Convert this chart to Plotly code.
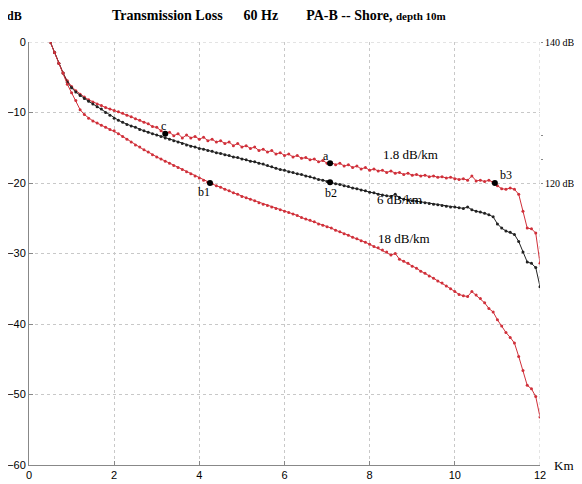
import plotly.graph_objects as go

km = [round(0.5 + 0.1 * i, 1) for i in range(116)]

loss_1_8 = [0.0, -1.5, -3.0, -4.4, -5.5, -6.3, -6.9, -7.4, -7.8, -8.2,
            -8.5, -8.8, -9.0, -9.3, -9.5, -9.7, -9.9, -10.1, -10.4, -10.6,
            -10.9, -11.1, -11.4, -11.6, -12.0, -12.1, -12.6, -13.0, -12.8, -13.3,
            -13.0, -13.6, -13.2, -13.6, -13.4, -13.8, -13.5, -14.0, -13.8, -14.2,
            -14.0, -14.4, -14.2, -14.7, -14.4, -14.9, -14.7, -15.1, -14.9, -15.4,
            -15.2, -15.6, -15.4, -15.9, -15.7, -16.1, -15.9, -16.3, -16.1, -16.5,
            -16.4, -16.7, -16.6, -17.0, -16.8, -17.2, -17.1, -17.4, -17.2, -17.6,
            -17.4, -17.8, -17.6, -18.0, -17.8, -18.2, -18.0, -18.3, -18.2, -18.5,
            -18.3, -18.6, -18.5, -18.8, -18.6, -18.9, -18.8, -19.0, -18.9, -19.1,
            -19.0, -19.2, -19.1, -19.3, -19.2, -19.4, -19.5, -19.4, -19.6, -19.0,
            -19.7, -19.6, -19.8, -19.6, -19.9, -20.4, -20.8, -20.9, -20.7, -20.9,
            -21.6, -24.0, -26.4, -26.5, -27.1, -31.4]

loss_6 = [0.0, -1.5, -3.0, -4.4, -5.7, -6.5, -7.1, -7.6, -8.0, -8.4,
          -8.8, -9.2, -9.5, -10.0, -10.4, -10.8, -11.1, -11.4, -11.7, -11.9,
          -12.1, -12.4, -12.6, -12.8, -13.0, -13.2, -13.4, -13.6, -13.8, -14.0,
          -14.2, -14.4, -14.6, -14.8, -14.9, -15.1, -15.2, -15.4, -15.5, -15.7,
          -15.8, -16.0, -16.1, -16.3, -16.4, -16.6, -16.7, -16.9, -17.0, -17.2,
          -17.3, -17.5, -17.7, -17.9, -18.1, -18.2, -18.4, -18.5, -18.7, -18.8,
          -19.0, -19.1, -19.3, -19.5, -19.6, -19.8, -19.9, -20.1, -20.2, -20.4,
          -20.5, -20.7, -20.8, -21.0, -21.1, -21.3, -21.4, -21.6, -21.7, -21.8,
          -21.9, -21.6, -22.1, -22.3, -22.4, -22.5, -22.6, -22.7, -22.8, -22.9,
          -23.0, -23.1, -23.2, -23.3, -23.4, -23.4, -23.5, -23.6, -23.4, -23.8,
          -24.0, -24.1, -24.3, -24.5, -24.8, -25.8, -26.4, -26.8, -27.0, -27.3,
          -28.3, -29.8, -31.2, -31.4, -32.0, -34.7]

loss_18 = [0.0, -1.5, -3.0, -4.4, -6.0, -7.2, -8.3, -9.6, -10.3, -10.8,
           -11.2, -11.5, -11.8, -12.1, -12.4, -12.6, -13.0, -13.4, -13.8, -14.2,
           -14.6, -14.9, -15.3, -15.6, -16.0, -16.3, -16.6, -16.9, -17.2, -17.5,
           -17.8, -18.1, -18.4, -18.7, -19.0, -19.3, -19.6, -19.9, -20.1, -20.4,
           -20.6, -20.9, -21.1, -21.4, -21.6, -21.9, -22.1, -22.3, -22.5, -22.8,
           -23.0, -23.2, -23.4, -23.6, -23.8, -24.0, -24.2, -24.4, -24.6, -24.9,
           -25.1, -25.3, -25.5, -25.8, -26.0, -26.2, -26.4, -26.7, -26.9, -27.2,
           -27.4, -27.7, -27.9, -28.2, -28.4, -28.7, -29.0, -29.2, -29.5, -29.8,
           -30.2, -30.0, -30.8, -31.1, -31.4, -31.8, -32.1, -32.5, -32.8, -33.2,
           -33.5, -33.9, -34.2, -34.6, -35.0, -35.4, -35.8, -36.0, -36.1, -35.4,
           -35.9, -36.4, -37.0, -37.8, -38.3, -39.4, -40.3, -41.2, -41.9, -42.7,
           -44.6, -46.6, -48.7, -49.2, -50.3, -53.2]

point_names = ["c", "a", "b1", "b2", "b3"]
point_km = [3.2, 7.07, 4.25, 7.07, 10.94]
point_db = [-13.0, -17.2, -20.0, -19.9, -20.0]
point_label_km = [3.15, 6.98, 4.1, 7.1, 11.2]
point_label_db = [-11.9, -16.1, -21.3, -21.4, -18.9]

rate_labels = ["1.8 dB/km", "6 dB/km", "18 dB/km"]
rate_label_km = [8.95, 8.7, 8.8]
rate_label_db = [-15.9, -22.3, -27.9]

x_ticks = [0, 2, 4, 6, 8, 10, 12]
y_ticks = [0, -10, -20, -30, -40, -50, -60]
right_ticks = [120, 123.3, 126.7, 140]
right_text = ["120 dB", "", "", "140 dB"]

RED = "#d0303a"
SERIF = "Liberation Serif"
SANS = "Liberation Sans"

fig = go.Figure()
for vals, col in [(loss_1_8, RED), (loss_6, "#222222"), (loss_18, RED)]:
    fig.add_trace(go.Scatter(x=km, y=vals, mode="lines+markers",
                             line=dict(color=col, width=1),
                             marker=dict(color=col, size=3),
                             showlegend=False))
fig.add_trace(go.Scatter(x=point_km, y=point_db, mode="markers",
                         marker=dict(color="black", size=6), showlegend=False))
fig.add_trace(go.Scatter(x=[None], y=[None], yaxis="y2", showlegend=False))

for n, xk, yd in zip(point_names, point_label_km, point_label_db):
    fig.add_annotation(x=xk, y=yd, text=n, showarrow=False,
                       font=dict(family=SERIF, size=12, color="black"))
for n, xk, yd in zip(rate_labels, rate_label_km, rate_label_db):
    fig.add_annotation(x=xk, y=yd, text=n, showarrow=False,
                       font=dict(family=SERIF, size=13, color="black"))

fig.add_annotation(xref="paper", yref="paper", x=0.49, y=1.0, yshift=27,
                   xanchor="center", yanchor="middle",
                   text="<b>Transmission Loss&nbsp;&nbsp;&nbsp;&nbsp;&nbsp; 60 Hz&nbsp;&nbsp;&nbsp;&nbsp;&nbsp;&nbsp;&nbsp; PA-B -- Shore, <span style='font-size:11px'>depth 10m</span></b>",
                   showarrow=False, font=dict(family=SERIF, size=14, color="black"))
fig.add_annotation(xref="paper", yref="paper", x=0, y=1.0, xshift=-15, yshift=26,
                   xanchor="center", yanchor="middle",
                   text="<b>dB</b>", showarrow=False,
                   font=dict(family=SERIF, size=12, color="black"))
fig.add_annotation(xref="paper", yref="paper", x=1.0, y=0, xshift=24, yshift=0,
                   xanchor="center", yanchor="middle",
                   text="Km", showarrow=False,
                   font=dict(family=SERIF, size=13, color="black"))

fig.update_layout(
    width=582, height=484,
    margin=dict(l=21, r=50, t=34, b=27, autoexpand=False),
    paper_bgcolor="white", plot_bgcolor="white",
    xaxis=dict(range=[0, 12], tickvals=x_ticks, showgrid=True, automargin=False,
               gridcolor="#c8c8c8", griddash="dot", gridwidth=1,
               showline=True, linecolor="#888888", linewidth=1,
               ticks="inside", ticklen=4, tickcolor="#888888",
               tickfont=dict(family=SANS, size=11, color="black"),
               zeroline=False),
    yaxis=dict(range=[-60, 0], tickvals=y_ticks, showgrid=True, automargin=False,
               gridcolor="#c8c8c8", griddash="dot", gridwidth=1,
               showline=True, linecolor="#888888", linewidth=1,
               ticks="inside", ticklen=4, tickcolor="#888888",
               tickfont=dict(family=SANS, size=11, color="black"),
               zeroline=False),
    yaxis2=dict(range=[80, 140], overlaying="y", side="right", automargin=False,
                tickvals=right_ticks, ticktext=right_text,
                ticks="outside", ticklen=2, tickcolor="#888888",
                showgrid=False, showline=False, zeroline=False,
                tickfont=dict(family=SERIF, size=10, color="black")),
)
fig.add_shape(type="line", xref="x", yref="paper", x0=12, x1=12, y0=0, y1=1,
              line=dict(color="#c8c8c8", width=1, dash="dot"))
fig.add_shape(type="line", xref="paper", yref="y", x0=0, x1=1, y0=0, y1=0,
              line=dict(color="#c8c8c8", width=1, dash="dot"))

fig.write_html("out.html")
